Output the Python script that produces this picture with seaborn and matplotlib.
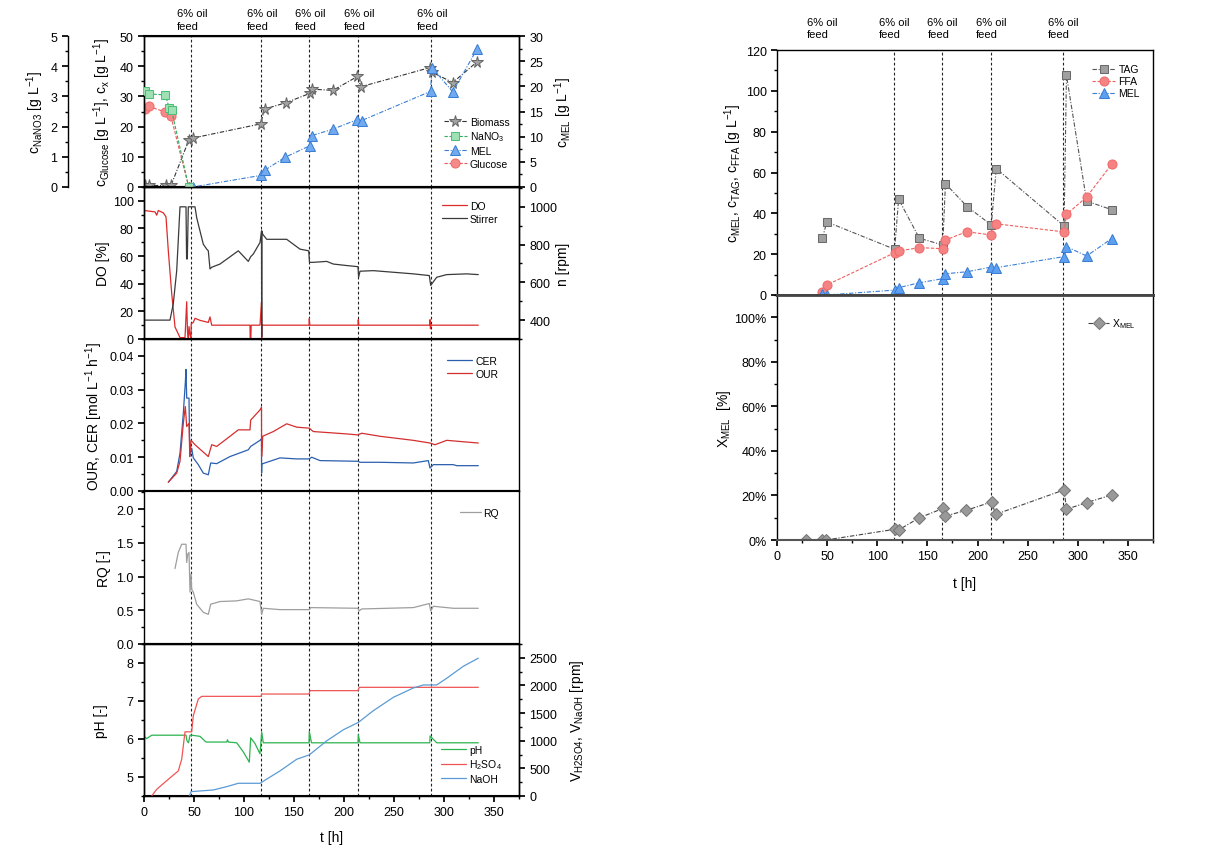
import numpy as np
import matplotlib
matplotlib.use('Agg')
import matplotlib.pyplot as plt
import matplotlib.transforms as mtransforms
from matplotlib.ticker import MultipleLocator, FuncFormatter
import seaborn as sns

# ---------------- data ----------------
feed_left = [47, 117, 165, 214, 287]
feed_right = [45, 117, 165, 213, 285]

bio_t = [1, 5, 22, 27, 44.7, 48.8, 116.7, 120.5, 141.8, 165.9, 167.6, 189, 213.4, 216.9, 285.5, 288, 308.8, 332.9]
bio_v = [0.5, 0.5, 0.5, 0.5, 15.4, 16.2, 20.9, 25.8, 27.9, 31.0, 32.4, 32.0, 36.6, 33.2, 39.5, 38.0, 34.6, 41.4]
nano_t = [0.6, 4.8, 21.3, 25.4, 27.5, 44.7]
nano_v = [3.19, 3.08, 3.05, 2.60, 2.56, 0.0]
glc_t = [0.6, 4.8, 20.6, 26.8, 44.7]
glc_v = [25.8, 26.7, 24.9, 23.6, 0.0]
mel_t = [44.7, 48.8, 116.7, 120.5, 141, 165.9, 167.6, 189, 213.4, 217.6, 286.5, 288, 308.8, 333]
mel_v = [0, 0, 2.3, 3.3, 5.9, 8.2, 10.2, 11.5, 13.4, 13.2, 19.0, 23.7, 18.9, 27.4]

do_t = [0, 11, 12.7, 14.3, 19.3, 22, 24.3, 27.7, 31, 36, 41, 42.7, 43.5, 44.3, 45, 46, 47, 47.2, 49.3, 51, 56, 64.3, 66, 67.7,
        106, 106.2, 106.8, 107.2, 116, 117.5, 117.7, 117.9, 119.3, 165, 165.3, 165.8, 214, 214.3, 214.8,
        285.8, 286.1, 286.4, 287, 334.3]
do_v = [93, 92, 89.6, 93, 91.3, 88.4, 64, 33, 8.7, 1, 1, 27, 5, 0, 9, 3, 0, 11, 12, 15, 13.5, 12, 16, 10,
        10, 0, 0, 10, 10, 27, 0, 10.4, 10, 10, 14.7, 10, 10, 14, 10,
        10, 14, 7.5, 10, 10]
stir_t = [0, 26, 29.3, 32.7, 36, 42, 42.6, 43.3, 44.3, 51, 52.7, 59.3, 62.7, 64.3, 66, 67.7, 76, 94.3, 104.3, 106.7, 109.3,
          116, 117.5, 117.7, 117.9, 118.7, 122.7, 142.7, 149.3, 156, 164.7, 165.5, 169.3, 182.7, 189.3, 202.7, 214,
          214.6, 216, 229.3, 269.3, 285.3, 286.7, 292.7, 302.7, 322.7, 334.3]
stir_v = [400, 400, 487, 662, 1000, 1000, 724, 724, 1000, 1000, 942, 802, 776, 767, 671, 680, 697, 767, 711, 736, 750,
          811, 872, 312, 872, 855, 828, 828, 802, 776, 767, 706, 706, 711, 697, 689, 683,
          627, 659, 662, 645, 636, 584, 627, 641, 645, 641]

cer_t = [24.3, 32.7, 36, 39.3, 41.3, 42, 42.7, 45, 45.8, 47.7, 49.3, 54.3, 59.3, 64.3, 66.7, 72.7, 86, 104.3, 106.7,
         116, 117.5, 117.6, 117.8, 136, 152.7, 165.3, 167.7, 176, 214, 216, 236, 269.3, 284.3, 286, 289.3, 309.3,
         312.7, 334.3]
cer_v = [0.0026, 0.0058, 0.0112, 0.023, 0.032, 0.036, 0.0275, 0.0275, 0.0102, 0.0127, 0.0098, 0.0078, 0.0053, 0.0048,
         0.0083, 0.0081, 0.0102, 0.0122, 0.0132, 0.015, 0.0155, 0.0053, 0.008, 0.0098, 0.0095, 0.0095, 0.0100, 0.0090,
         0.0088, 0.0085, 0.0085, 0.0083, 0.0090, 0.0068, 0.0078, 0.0078, 0.0075, 0.0075]
our_t = [24.3, 32.7, 36, 39.3, 41.3, 42.7, 45, 45.8, 47, 51, 64.3, 67.7, 72.7, 86, 94.3, 106, 106.7, 116, 117.5,
         117.6, 118.7, 129.3, 142.7, 152.7, 165.3, 169.3, 202.7, 214, 217.7, 236, 269.3, 286, 291, 302.7, 334.3]
our_v = [0.0026, 0.0053, 0.0088, 0.020, 0.025, 0.0191, 0.020, 0.0102, 0.015, 0.0137, 0.0102, 0.0137, 0.0132, 0.0162,
         0.0181, 0.0181, 0.021, 0.024, 0.0248, 0.0102, 0.0162, 0.0176, 0.0199, 0.0189, 0.0186, 0.0176, 0.0169, 0.0166,
         0.0171, 0.0162, 0.0150, 0.0142, 0.0137, 0.0150, 0.0142]

rq_t = [31, 34.3, 37.7, 42, 42.7, 43.7, 45, 46, 47, 47.7, 49.3, 52.7, 59.3, 64.3, 66.7, 76, 92.7, 104.3, 116, 117.7,
        119.3, 136, 165.3, 166.7, 214, 215, 217.7, 269.3, 285.3, 286.7, 289.3, 309.3, 334.3]
rq_v = [1.12, 1.36, 1.48, 1.48, 1.21, 1.33, 1.36, 0.77, 1.04, 0.81, 0.77, 0.59, 0.47, 0.44, 0.59, 0.63, 0.64, 0.67,
        0.63, 0.44, 0.53, 0.51, 0.51, 0.54, 0.53, 0.49, 0.52, 0.54, 0.60, 0.49, 0.56, 0.53, 0.53]

ph_t = [0, 2.7, 7.7, 42, 43, 44.5, 46, 47.7, 56, 62, 82.7, 83.5, 84.3, 92.7, 99.3, 105.3, 106.7, 111, 116, 117.7,
        119.3, 165, 165.3, 167.5, 214, 214.3, 216, 285.8, 286.1, 292.7, 334.3]
ph_v = [6.07, 6.01, 6.1, 6.1, 5.95, 5.9, 6.1, 6.1, 6.07, 5.92, 5.92, 5.98, 5.92, 5.9, 5.66, 5.39, 6.03, 5.88, 5.61,
        6.18, 5.9, 5.9, 6.2, 5.9, 5.9, 6.11, 5.9, 5.9, 6.08, 5.9, 5.9]
h2so4_t = [7.7, 12.7, 24.3, 34.3, 37.7, 41, 47.7, 49.3, 54.3, 57.7, 117, 117.7, 165, 166, 214, 215.3, 334.3]
h2so4_v = [0, 121, 302, 454, 665, 1161, 1161, 1452, 1755, 1803, 1803, 1845, 1845, 1906, 1906, 1966, 1966]
naoh_t = [45.3, 47, 69.3, 82.7, 94.3, 116, 136, 152.7, 165.3, 182.7, 199.3, 214.3, 229.3, 249.3, 269.3, 279.3,
          292.7, 302.7, 319.3, 334.3]
naoh_v = [0, 79, 109, 169, 230, 230, 454, 665, 744, 998, 1198, 1331, 1543, 1785, 1954, 2009, 2009, 2130, 2347, 2493]

tag_t = [45.3, 49.7, 117.3, 121.3, 142, 165.3, 168, 189.7, 213.7, 218.7, 286.3, 288.7, 308.8, 333.7]
tag_v = [27.8, 35.8, 22.4, 46.9, 27.8, 24.5, 54.5, 43.3, 34.3, 61.9, 33.8, 107.6, 46.0, 41.8]
ffa_t = [45.3, 49.7, 117.3, 122, 142, 165.3, 168, 189, 213.7, 218, 286.3, 288.7, 308.8, 333.7]
ffa_v = [1.6, 4.9, 20.7, 21.6, 23.2, 22.7, 26.9, 31.0, 29.4, 34.9, 30.9, 39.5, 48.0, 64.0]
melr_t = [45.3, 49.7, 117.3, 121.3, 142, 165.3, 168, 189.7, 213.7, 218.7, 286.3, 288.7, 308.8, 333.7]
melr_v = [0.3, 0.0, 2.4, 3.6, 6.0, 8.0, 10.4, 11.4, 13.7, 13.4, 18.8, 23.7, 19.1, 27.6]
xmel_t = [28.7, 45.3, 49, 117.3, 121.3, 142, 165.7, 168, 188.7, 214, 218, 286.3, 288.7, 308.8, 333.7]
xmel_v = [0, 0, 0, 4.8, 4.5, 10.0, 14.2, 10.8, 13.3, 17.1, 11.5, 22.5, 13.8, 16.8, 20.2]

# ---------------- style ----------------
sns.set_theme(style='ticks')
plt.rcParams['font.family'] = ['Liberation Sans', 'DejaVu Sans']
plt.rcParams.update({
    'mathtext.fontset': 'custom', 'mathtext.rm': 'Liberation Sans',
    'mathtext.it': 'Liberation Sans:italic', 'mathtext.bf': 'Liberation Sans:bold',
    'mathtext.default': 'regular',
    'axes.linewidth': 1.0, 'axes.edgecolor': 'black',
    'xtick.direction': 'out', 'ytick.direction': 'out',
    'xtick.major.size': 4, 'ytick.major.size': 4, 'xtick.minor.size': 2, 'ytick.minor.size': 2,
    'xtick.color': 'black', 'ytick.color': 'black',
    'xtick.labelsize': 9, 'ytick.labelsize': 9, 'axes.labelsize': 10, 'legend.fontsize': 7.5,
    'text.color': 'black', 'axes.labelcolor': 'black',
})

W, H = 1231, 862
fig = plt.figure(figsize=(W / 100, H / 100), dpi=100)
fig.patch.set_facecolor('white')


def add_ax(l, t, r, b):
    return fig.add_axes([l / W, 1 - b / H, (r - l) / W, (b - t) / H])


def line(ax, t, v, color, lw=1.0, label=None, **kw):
    sns.lineplot(x=np.asarray(t, float), y=np.asarray(v, float), ax=ax, color=color, lw=lw,
                 estimator=None, sort=False, label=label, **kw)
    if ax.get_legend() is not None:
        ax.get_legend().remove()


def feed_lines(ax, feeds):
    for f in feeds:
        ax.axvline(f, color='#222222', lw=0.8, ls=(0, (2.5, 2)), zorder=1)


XL = (0, 375)
ax1 = add_ax(144, 37, 519, 188)
ax2 = add_ax(144, 188, 519, 340)
ax3 = add_ax(144, 340, 519, 492)
ax4 = add_ax(144, 492, 519, 645)
ax5 = add_ax(144, 645, 519, 797)
left_axes = [ax1, ax2, ax3, ax4, ax5]
for ax in left_axes:
    ax.set_xlim(*XL)
    ax.set_facecolor('none')
    feed_lines(ax, feed_left)
    ax.xaxis.set_major_locator(MultipleLocator(50))
    ax.xaxis.set_minor_locator(MultipleLocator(25))
    for s in ['top', 'bottom']:
        ax.spines[s].set_linewidth(1.5)
for ax in left_axes[:-1]:
    ax.tick_params(axis='x', which='both', length=0, labelbottom=False)

# ---- top-left panel
axm = ax1.twinx()
axn = ax1.twinx()
axn.spines['left'].set_position(('axes', -0.203))
axn.spines['left'].set_visible(True)
axn.spines['right'].set_visible(False)
axn.spines['top'].set_visible(False)
axn.spines['bottom'].set_visible(False)
axn.yaxis.set_ticks_position('left')
axn.yaxis.set_label_position('left')

line(ax1, bio_t, bio_v, '#333333', lw=0.8, label='Biomass', marker='*', markersize=8.5,
     mfc='#a3a3a3', mec='#666666', ls=(0, (4, 1.5, 1, 1.5)))
line(axn, nano_t, nano_v, '#2fae62', lw=0.8, label='NaNO$_3$', marker='s', markersize=5.5,
     mfc='#9fe0b4', mec='#4dbf78', ls=(0, (3, 1.5)))
line(axm, mel_t, mel_v, '#3a7fd5', lw=0.8, label='MEL', marker='^', markersize=6.5,
     mfc='#72aaf0', mec='#3a7fd5', ls=(0, (4, 1.5, 1, 1.5)))
line(ax1, glc_t, glc_v, '#ea5a5a', lw=0.8, label='Glucose', marker='o', markersize=6.5,
     mfc='#f58a8a', mec='#ef6b6b', ls=(0, (3, 1.5)))

ax1.set_ylim(0, 50)
ax1.yaxis.set_major_locator(MultipleLocator(10))
ax1.yaxis.set_minor_locator(MultipleLocator(5))
axm.set_ylim(0, 30)
axm.yaxis.set_major_locator(MultipleLocator(5))
axm.yaxis.set_minor_locator(MultipleLocator(2.5))
axn.set_ylim(0, 5)
axn.yaxis.set_major_locator(MultipleLocator(1))
axn.yaxis.set_minor_locator(MultipleLocator(0.5))
ax1.set_ylabel(r'$c_{Glucose}$ [g L$^{-1}$], $c_x$ [g L$^{-1}$]')
ax1.yaxis.set_label_coords(-0.082, 0.5)
axn.set_ylabel(r'$c_{NaNO3}$ [g L$^{-1}$]')
axn.yaxis.set_label_coords(-0.262, 0.5)
axm.set_ylabel(r'$c_{MEL}$ [g L$^{-1}$]')
axm.yaxis.set_label_coords(1.088, 0.5)
h1 = [l for l in ax1.get_lines() if not l.get_label().startswith('_')]
hn = [l for l in axn.get_lines() if not l.get_label().startswith('_')]
hm = [l for l in axm.get_lines() if not l.get_label().startswith('_')]
hands = [h1[0], hn[0], hm[0], h1[1]]
axn.legend(hands, [h.get_label() for h in hands], loc='lower right', bbox_to_anchor=(1.0, 0.06),
           frameon=False, handlelength=2.2, labelspacing=0.25, handletextpad=0.3)
trans1 = mtransforms.blended_transform_factory(ax1.transData, ax1.transAxes)
for f in feed_left:
    ax1.text(f - 14, 1.11, '6% oil\nfeed', transform=trans1, ha='left', va='center', fontsize=8,
             linespacing=1.35, clip_on=False)

# ---- DO panel
ax2b = ax2.twinx()
line(ax2, do_t, do_v, '#dc2b2b', lw=0.9, label='DO')
line(ax2b, stir_t, stir_v, '#3a3a3a', lw=0.9, label='Stirrer')
ax2.set_ylim(0, 110)
ax2.yaxis.set_major_locator(MultipleLocator(20))
ax2.yaxis.set_minor_locator(MultipleLocator(10))
ax2b.set_ylim(300, 1105)
ax2b.yaxis.set_major_locator(MultipleLocator(200))
ax2b.yaxis.set_minor_locator(MultipleLocator(100))
ax2.set_ylabel('DO [%]')
ax2.yaxis.set_label_coords(-0.09, 0.5)
ax2b.set_ylabel('n [rpm]')
ax2b.yaxis.set_label_coords(1.10, 0.5)
hd = [l for l in ax2.get_lines() if l.get_label() == 'DO'] + [l for l in ax2b.get_lines() if l.get_label() == 'Stirrer']
ax2b.legend(hd, ['DO', 'Stirrer'], loc='upper right', bbox_to_anchor=(0.97, 0.97), frameon=False,
            handlelength=2.4, labelspacing=0.25, handletextpad=0.3)

# ---- OUR / CER panel
line(ax3, cer_t, cer_v, '#2a5fae', lw=0.9, label='CER')
line(ax3, our_t, our_v, '#d42f2f', lw=0.9, label='OUR')
ax3.set_ylim(0, 0.045)
ax3.set_yticks([0, 0.01, 0.02, 0.03, 0.04])
ax3.yaxis.set_minor_locator(MultipleLocator(0.005))
ax3.yaxis.set_major_formatter(FuncFormatter(lambda v, p: f'{v:.2f}'))
ax3.set_ylabel('OUR, CER [mol L$^{-1}$ h$^{-1}$]')
ax3.yaxis.set_label_coords(-0.105, 0.5)
hc = [l for l in ax3.get_lines() if l.get_label() in ('CER', 'OUR')]
ax3.legend(hc, [h.get_label() for h in hc], loc='upper right', bbox_to_anchor=(0.97, 0.95), frameon=False,
           handlelength=2.4, labelspacing=0.25, handletextpad=0.3)

# ---- RQ panel
line(ax4, rq_t, rq_v, '#9e9e9e', lw=0.9, label='RQ')
ax4.set_ylim(0, 2.27)
ax4.yaxis.set_major_locator(MultipleLocator(0.5))
ax4.yaxis.set_minor_locator(MultipleLocator(0.25))
ax4.yaxis.set_major_formatter(FuncFormatter(lambda v, p: f'{v:.1f}'))
ax4.set_ylabel('RQ [-]')
ax4.yaxis.set_label_coords(-0.088, 0.5)
hr = [l for l in ax4.get_lines() if l.get_label() == 'RQ']
ax4.legend(hr, ['RQ'], loc='upper right', bbox_to_anchor=(0.97, 0.95), frameon=False,
           handlelength=2.0, handletextpad=0.2)

# ---- pH panel
ax5b = ax5.twinx()
line(ax5, ph_t, ph_v, '#2db34f', lw=0.9, label='pH')
line(ax5b, h2so4_t, h2so4_v, '#f05555', lw=0.9, label='H$_2$SO$_4$')
line(ax5b, naoh_t, naoh_v, '#5b9bd5', lw=0.9, label='NaOH')
ax5.set_ylim(4.5, 8.5)
ax5.yaxis.set_major_locator(MultipleLocator(1))
ax5.yaxis.set_minor_locator(MultipleLocator(0.5))
ax5b.set_ylim(0, 2750)
ax5b.yaxis.set_major_locator(MultipleLocator(500))
ax5b.yaxis.set_minor_locator(MultipleLocator(250))
ax5.set_ylabel('pH [-]')
ax5.yaxis.set_label_coords(-0.096, 0.5)
ax5b.set_ylabel(r'$V_{H2SO4}$, $V_{NaOH}$ [rpm]')
ax5b.yaxis.set_label_coords(1.13, 0.5)
ax5.set_xlabel('t [h]')
ax5.xaxis.set_label_coords(0.5, -0.225)
hp = [l for l in ax5.get_lines() if l.get_label() == 'pH'] + \
     [l for l in ax5b.get_lines() if l.get_label() in ('H$_2$SO$_4$', 'NaOH')]
ax5b.legend(hp, [h.get_label() for h in hp], loc='lower right', bbox_to_anchor=(0.98, 0.02), frameon=False,
            handlelength=2.4, labelspacing=0.25, handletextpad=0.3)
for a in (ax2b, ax5b, axm):
    a.set_xlim(*XL)

# ---------------- right column ----------------
axr1 = add_ax(777, 51, 1153, 296)
axr2 = add_ax(777, 296, 1153, 541)
for ax in (axr1, axr2):
    ax.set_xlim(*XL)
    feed_lines(ax, feed_right[1:])
    ax.xaxis.set_major_locator(MultipleLocator(50))
    ax.xaxis.set_minor_locator(MultipleLocator(25))
    ax.tick_params(axis='y', which='both', right=False)
axr1.tick_params(axis='x', which='both', length=0, labelbottom=False)
axr1.spines['bottom'].set_linewidth(2.0)
axr1.spines['bottom'].set_color('#444444')
axr2.spines['top'].set_linewidth(2.0)
axr2.spines['top'].set_color('#444444')
axr2.spines['bottom'].set_color('#555555')
axr2.spines['bottom'].set_linewidth(1.5)

line(axr1, tag_t, tag_v, '#555555', lw=0.8, label='TAG', marker='s', markersize=5.5,
     mfc='#a0a0a0', mec='#6a6a6a', ls=(0, (4, 1.5, 1, 1.5)))
line(axr1, ffa_t, ffa_v, '#f06060', lw=0.8, label='FFA', marker='o', markersize=6.5,
     mfc='#f58383', mec='#f06a6a', ls=(0, (3, 1.5)))
line(axr1, melr_t, melr_v, '#3a7fd5', lw=0.8, label='MEL', marker='^', markersize=6.5,
     mfc='#5e9ff0', mec='#3a7fd5', ls=(0, (4, 1.5, 1, 1.5)))
axr1.set_ylim(0, 120)
axr1.yaxis.set_major_locator(MultipleLocator(20))
axr1.yaxis.set_minor_locator(MultipleLocator(10))
axr1.set_ylabel(r'$c_{MEL}$, $c_{TAG}$, $c_{FFA}$ [g L$^{-1}$]')
axr1.yaxis.set_label_coords(-0.088, 0.5)
hr1 = [l for l in axr1.get_lines() if l.get_label() in ('TAG', 'FFA', 'MEL')]
axr1.legend(hr1, [h.get_label() for h in hr1], loc='upper right', bbox_to_anchor=(0.99, 0.98), frameon=False,
            handlelength=2.2, labelspacing=0.2, handletextpad=0.3)
transr = mtransforms.blended_transform_factory(axr1.transData, axr1.transAxes)
for f in feed_right:
    axr1.text(f - 15, 1.09, '6% oil\nfeed', transform=transr, ha='left', va='center', fontsize=8,
              linespacing=1.35, clip_on=False)

line(axr2, xmel_t, xmel_v, '#444444', lw=0.8, label='X$_{MEL}$', marker='D', markersize=6,
     mfc='#999999', mec='#777777', ls=(0, (4, 1.5, 1, 1.5)))
axr2.set_ylim(0, 110)
axr2.yaxis.set_major_locator(MultipleLocator(20))
axr2.yaxis.set_minor_locator(MultipleLocator(10))
axr2.yaxis.set_major_formatter(FuncFormatter(lambda v, p: f'{int(round(v))}%'))
axr2.set_ylabel(r'$X_{MEL}$  [%]')
axr2.yaxis.set_label_coords(-0.118, 0.5)
axr2.set_xlabel('t [h]')
axr2.xaxis.set_label_coords(0.5, -0.145)
hx = [l for l in axr2.get_lines() if l.get_label() == 'X$_{MEL}$']
axr2.legend(hx, ['X$_{MEL}$'], loc='upper right', bbox_to_anchor=(0.98, 0.95), frameon=False,
            handlelength=2.0, handletextpad=0.3)

fig.savefig('out.png', dpi=100, facecolor='white')
